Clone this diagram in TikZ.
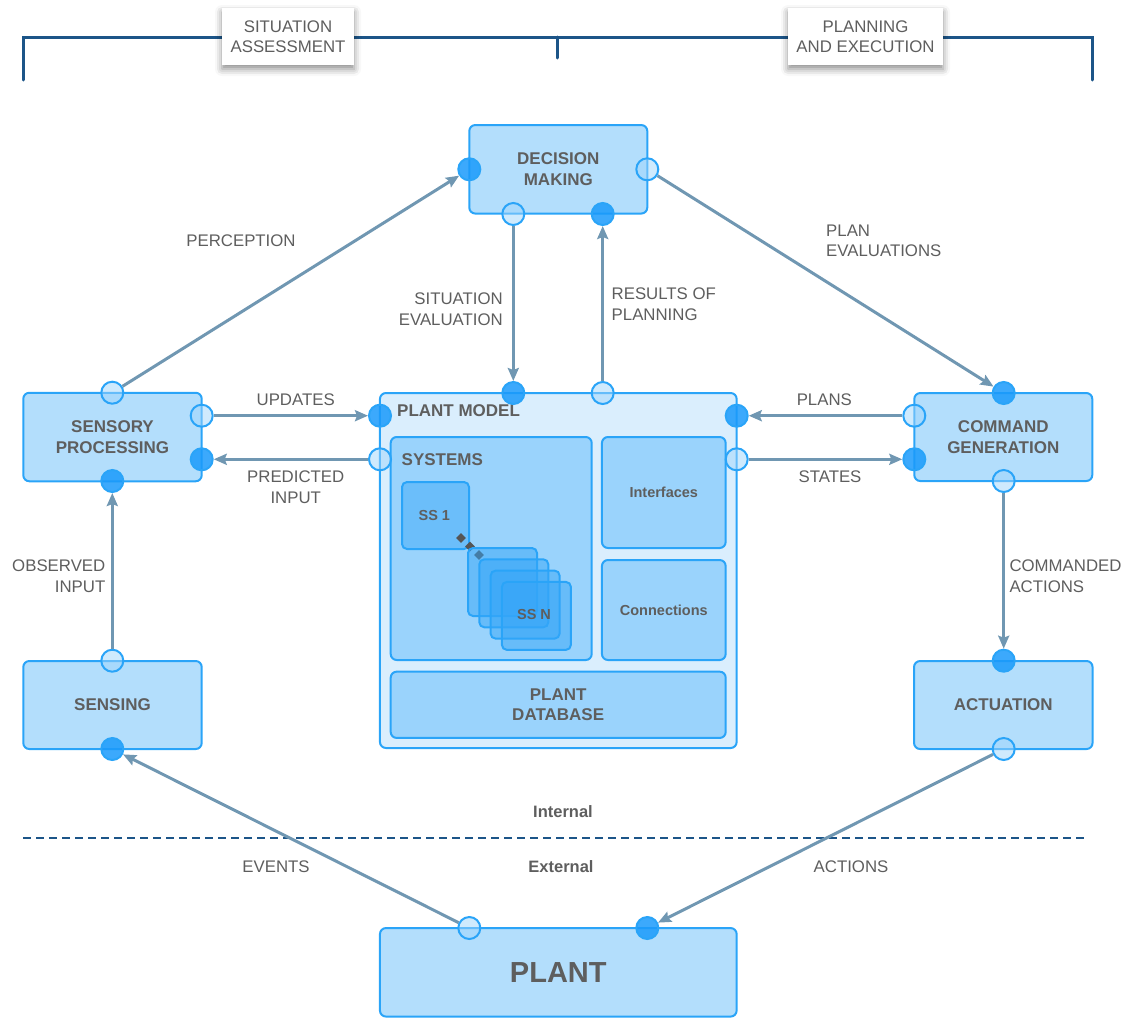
\documentclass[tikz,border=0pt]{standalone}
\usepackage{fontspec}
\setmainfont{Liberation Sans}
\usetikzlibrary{arrows.meta,shadows.blur,shapes.geometric}

\definecolor{txt}{HTML}{5E5E5E}
\definecolor{edge}{HTML}{2AA4F8}
\definecolor{boxfill}{HTML}{B3DEFC}
\definecolor{modelfill}{HTML}{DAEEFD}
\definecolor{partfill}{HTML}{9AD3FC}
\definecolor{ssfill}{HTML}{6BBEFA}
\definecolor{stackfill}{HTML}{35A6F8}
\definecolor{portfull}{HTML}{1A9AFB}
\definecolor{portopen}{HTML}{9FD5FC}
\definecolor{flowc}{HTML}{7097B2}
\definecolor{frame}{HTML}{1C5588}
\definecolor{dotc}{HTML}{555555}

\tikzset{
  box/.style={draw=edge, line width=2pt, fill=boxfill, rounded corners=6pt,
    inner sep=0pt, text=txt, font=\fontsize{17}{20.7}\selectfont\bfseries, align=center},
  part/.style={draw=edge, line width=2pt, fill=partfill, rounded corners=6pt, inner sep=0pt},
  ssbox/.style={draw=edge, line width=2pt, fill=ssfill, rounded corners=5pt, inner sep=0pt,
    minimum width=67pt, minimum height=67pt},
  stackbox/.style={draw=edge, line width=2pt, fill=stackfill, fill opacity=0.5,
    rounded corners=5pt, inner sep=0pt, minimum width=69pt, minimum height=68pt},
  pfull/.style={circle, draw=edge, line width=2pt, fill=portfull, fill opacity=0.85,
    minimum size=22pt, inner sep=0pt},
  popen/.style={circle, draw=edge, line width=2pt, fill=portopen, fill opacity=0.5,
    minimum size=22pt, inner sep=0pt},
  flow/.style={draw=flowc, line width=3pt, -{Stealth[length=13pt,width=11pt,inset=2pt]}},
  lbl/.style={text=txt, font=\fontsize{16.8}{20.5}\selectfont, inner sep=0pt},
  blbl/.style={text=txt, font=\fontsize{17}{20.7}\selectfont\bfseries, inner sep=0pt},
  small/.style={text=txt, font=\fontsize{14.5}{17}\selectfont\bfseries, inner sep=0pt},
  tag/.style={fill=white, text=txt, font=\fontsize{16.8}{20.5}\selectfont, align=center,
    inner sep=0pt, blur shadow={shadow xshift=0pt, shadow yshift=-4pt,
    shadow blur radius=7pt, shadow opacity=45}},
  dot/.style={diamond, fill=dotc, inner sep=0pt, minimum size=10pt},
}

\begin{document}
\begin{tikzpicture}[x=1pt,y=-1pt]
\useasboundingbox (0,0) rectangle (1127,1018);

% brackets at the top
\draw[frame, line width=3pt, line cap=round] (23,80) -- (23,37) -- (1092,37) -- (1092,80);
\draw[frame, line width=3pt, line cap=round] (557,37) -- (557,58);
\node[tag, minimum width=132pt, minimum height=57pt] (tsa) at (288,36.5) {SITUATION\\ASSESSMENT};
\node[tag, minimum width=155pt, minimum height=57pt] (tpe) at (865.5,36.5) {PLANNING\\AND EXECUTION};

% internal / external boundary
\draw[frame, line width=2.5pt, dash pattern=on 8pt off 5pt] (23,838) -- (1085,838);
\node[small, font=\fontsize{16.5}{19}\selectfont\bfseries] (lint) at (563,812) {Internal};
\node[small, font=\fontsize{16.5}{19}\selectfont\bfseries] (lext) at (561,867) {External};

% main blocks
\node[box, minimum width=178pt, minimum height=88.5pt] (dm) at (558.3,169.3) {DECISION\\MAKING};
\node[box, minimum width=178.4pt, minimum height=88.5pt] (sp) at (112.5,437) {SENSORY\\PROCESSING};
\node[box, minimum width=178pt, minimum height=88pt] (cg) at (1003.3,437) {COMMAND\\GENERATION};
\node[box, minimum width=178.4pt, minimum height=88pt] (sen) at (112.5,705) {SENSING};
\node[box, minimum width=178.5pt, minimum height=88pt] (act) at (1003.3,705) {ACTUATION};
\node[box, minimum width=356.7pt, minimum height=88.5pt, font=\fontsize{29}{34}\selectfont\bfseries] (plant) at (558.3,972.3) {PLANT};

% plant model
\node[box, fill=modelfill, minimum width=356.7pt, minimum height=355pt] (pm) at (558.3,570.5) {};
\node[blbl, anchor=west] (pmt) at (397,411) {PLANT MODEL};
\node[part, minimum width=201pt, minimum height=223pt] (sys) at (491.2,548.5) {};
\node[blbl, anchor=west] (syst) at (401.5,460) {SYSTEMS};
\node[part, minimum width=123.7pt, minimum height=111pt, text=txt, font=\fontsize{14.5}{17}\selectfont\bfseries] (intf) at (663.8,492.5) {Interfaces};
\node[part, minimum width=123.7pt, minimum height=100pt, text=txt, font=\fontsize{14.5}{17}\selectfont\bfseries] (conn) at (663.8,610) {Connections};
\node[part, minimum width=335pt, minimum height=66.3pt, text=txt, align=center, font=\fontsize{17}{20.7}\selectfont\bfseries] (db) at (558.2,704.8) {PLANT\\DATABASE};

% subsystems
\node[ssbox] (ss1) at (435.5,515.5) {};
\node[small] (ss1t) at (434.3,515) {SS 1};
\node[dot] (d1) at (461,538) {};
\node[dot] (d2) at (470,546.5) {};
\node[dot] (d3) at (479,555) {};
\node[stackbox] (sa) at (502.5,582) {};
\node[stackbox] (sb) at (513.8,593.3) {};
\node[stackbox] (sc) at (525.1,604.6) {};
\node[stackbox] (sd) at (536.4,615.9) {};
\node[small] (ssnt) at (534,614) {SS N};

% ports
\node[pfull] (dm-l) at (469.3,169.3) {};
\node[popen] (dm-r) at (647.3,169.3) {};
\node[popen] (dm-b1) at (513.3,214) {};
\node[pfull] (dm-b2) at (602.7,214) {};

\node[popen] (sp-t) at (112.3,392.7) {};
\node[popen] (sp-r1) at (201.7,415.7) {};
\node[pfull] (sp-r2) at (201.7,459.3) {};
\node[pfull] (sp-b) at (112.3,481) {};

\node[pfull] (pm-l1) at (380,415.7) {};
\node[popen] (pm-l2) at (380,459.3) {};
\node[pfull] (pm-t1) at (513.3,393) {};
\node[popen] (pm-t2) at (602.7,393) {};
\node[pfull] (pm-r1) at (736.7,415.7) {};
\node[popen] (pm-r2) at (736.7,459.3) {};

\node[pfull] (cg-t) at (1003.7,393) {};
\node[popen] (cg-l1) at (914.3,415.7) {};
\node[pfull] (cg-l2) at (914.3,459.3) {};
\node[popen] (cg-b) at (1003.7,481) {};

\node[popen] (sen-t) at (112.3,660.7) {};
\node[pfull] (sen-b) at (112.3,749) {};

\node[pfull] (act-t) at (1003.7,660.7) {};
\node[popen] (act-b) at (1003.7,749) {};

\node[popen] (pl-1) at (469.3,928) {};
\node[pfull] (pl-2) at (647.3,928) {};

% flows
\draw[flow] (sp-t) -- (dm-l);
\draw[flow] (sp-r1) -- (pm-l1);
\draw[flow] (pm-l2) -- (sp-r2);
\draw[flow] (dm-b1) -- (pm-t1);
\draw[flow] (pm-t2) -- (dm-b2);
\draw[flow] (dm-r) -- (cg-t);
\draw[flow] (cg-l1) -- (pm-r1);
\draw[flow] (pm-r2) -- (cg-l2);
\draw[flow] (cg-b) -- (act-t);
\draw[flow] (sen-t) -- (sp-b);
\draw[flow] (pl-1) -- (sen-b);
\draw[flow] (act-b) -- (pl-2);

% flow labels
\node[lbl] (lperc) at (241,241) {PERCEPTION};
\node[lbl] (lupd) at (295.7,400) {UPDATES};
\node[lbl, align=center] (lpred) at (295.7,487) {PREDICTED\\INPUT};
\node[lbl, align=right, anchor=east] (lsit) at (503,309) {SITUATION\\EVALUATION};
\node[lbl, align=left, anchor=west] (lres) at (611.5,304) {RESULTS OF\\PLANNING};
\node[lbl, align=left, anchor=west] (lpev) at (826,241) {PLAN\\EVALUATIONS};
\node[lbl] (lplans) at (824.3,400) {PLANS};
\node[lbl] (lstates) at (830,477) {STATES};
\node[lbl, align=left, anchor=west] (lcmd) at (1009.3,576) {COMMANDED\\ACTIONS};
\node[lbl, align=right, anchor=east] (lobs) at (105.5,576) {OBSERVED\\INPUT};
\node[lbl] (levt) at (276,867) {EVENTS};
\node[lbl] (lact) at (851,867) {ACTIONS};
\end{tikzpicture}
\end{document}
